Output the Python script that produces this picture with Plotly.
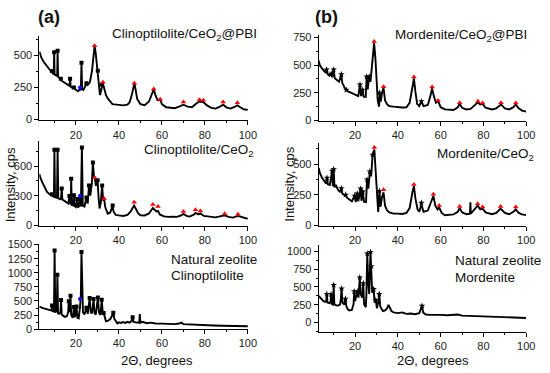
import plotly.graph_objects as go

# ---------------- data (2theta, intensity) ----------------
a1_x = [3, 4, 5, 6, 7, 8, 8.6, 8.9, 9.2, 9.7, 9.9, 10.1, 11.3, 11.5, 11.7, 12.5, 13, 13.5, 15, 16, 17, 17.3, 17.6, 18.5, 19.1, 19.7, 21, 21.9, 22.3, 22.6, 22.9, 23.5, 24.5, 25, 25.5, 26.5, 27.5, 28.2, 28.7, 29.2, 29.8, 30.2, 30.7, 31.2, 31.8, 32.5, 33.2, 34, 35, 36, 37, 38, 40, 42, 44, 45, 46, 46.8, 47.2, 47.7, 48.5, 50, 52, 54, 55.3, 56.2, 57, 58, 59.2, 60, 62, 64, 66, 68, 70, 72, 74, 76, 77.5, 79.3, 81, 83, 85, 87, 88.5, 90, 92, 94, 95.1, 96.5, 98, 100]
a1_y = [530, 480, 450, 430, 410, 385, 365, 378, 360, 355, 525, 350, 340, 536, 335, 320, 318, 300, 285, 270, 262, 318, 255, 245, 250, 235, 220, 235, 230, 442, 235, 230, 260, 283, 270, 290, 380, 500, 576, 520, 420, 380, 260, 190, 230, 285, 240, 190, 160, 140, 120, 118, 112, 110, 115, 135, 190, 260, 283, 240, 160, 120, 112, 140, 200, 235, 190, 150, 155, 120, 95, 90, 88, 100, 115, 100, 95, 125, 140, 135, 110, 90, 85, 100, 115, 95, 85, 100, 110, 95, 80, 75]

a2_x = [3, 3.5, 4.5, 5.5, 6.5, 7.5, 8.5, 8.9, 9.3, 9.8, 10, 10.3, 11.2, 11.5, 11.8, 12.5, 13.1, 13.4, 13.7, 14.5, 15.5, 16.5, 17, 17.3, 17.6, 17.8, 18.1, 18.8, 19.1, 19.4, 20, 20.6, 21, 21.6, 21.9, 22.3, 22.8, 23.2, 24, 24.9, 25.5, 26.1, 26.7, 27.4, 27.9, 28.4, 28.8, 29.3, 29.8, 30.1, 30.5, 31, 31.6, 32.2, 32.7, 33.1, 33.7, 34.8, 36, 36.8, 37.1, 37.5, 38.5, 40, 42, 44, 45.5, 46.5, 47.1, 47.8, 49, 50, 52, 54, 55.3, 55.8, 56.5, 57.5, 58.2, 59, 61, 63, 65, 67, 69, 70, 71.5, 73, 75, 75.6, 77, 77.9, 79.5, 82, 85, 87, 89.2, 91, 93, 95.4, 97, 99, 100]
a2_y = [520, 480, 430, 380, 340, 320, 305, 315, 295, 290, 767, 285, 280, 767, 275, 265, 270, 374, 260, 250, 235, 220, 298, 215, 210, 472, 205, 200, 305, 195, 185, 266, 180, 200, 300, 190, 790, 200, 190, 283, 220, 403, 300, 420, 637, 500, 482, 400, 440, 456, 300, 170, 230, 403, 250, 272, 180, 118, 130, 170, 200, 140, 105, 100, 95, 105, 140, 180, 200, 170, 120, 102, 100, 120, 160, 175, 160, 140, 145, 110, 90, 85, 88, 85, 100, 115, 95, 88, 110, 125, 110, 120, 95, 88, 80, 90, 100, 85, 78, 95, 82, 72, 68]

a3_x = [3, 4, 5, 6, 7, 8, 8.6, 8.9, 9.2, 9.8, 10.1, 10.4, 11.1, 11.4, 11.7, 12.3, 12.8, 13.1, 13.4, 14, 14.9, 15.8, 16.4, 16.7, 17, 17.5, 17.8, 18.5, 19.1, 19.5, 20.3, 20.7, 21.3, 21.9, 22.3, 22.6, 22.9, 23.3, 24, 24.9, 25.5, 26.4, 26.9, 27.5, 28.2, 28.7, 29.3, 30.2, 30.8, 31.5, 32, 32.5, 32.9, 33.5, 34, 35, 36, 37, 37.4, 37.9, 38.5, 39.3, 40, 41, 42, 43, 44, 45, 46, 46.4, 46.8, 48, 49.5, 49.7, 50, 51, 53, 55, 57, 60, 62, 64, 66, 68, 69, 70, 72, 75, 78, 80, 84, 88, 92, 96, 100]
a3_y = [400, 380, 370, 360, 350, 330, 330, 419, 320, 310, 1396, 300, 320, 965, 280, 276, 300, 517, 260, 240, 218, 230, 300, 494, 300, 592, 250, 200, 391, 210, 400, 200, 190, 380, 600, 1368, 700, 300, 260, 380, 270, 552, 300, 280, 534, 280, 260, 563, 290, 250, 523, 300, 288, 170, 138, 150, 180, 250, 293, 180, 140, 103, 120, 110, 125, 110, 130, 115, 150, 212, 130, 120, 110, 270, 115, 130, 105, 115, 100, 98, 95, 105, 90, 100, 115, 90, 85, 78, 72, 69, 65, 60, 58, 55, 52]

b1_x = [3, 3.5, 4.5, 5.5, 6.3, 6.7, 7.1, 8, 8.8, 9.3, 10, 10.5, 11.5, 12.5, 13.6, 14, 15, 15.9, 16.5, 17.5, 19, 20.5, 21.5, 22.3, 22.8, 23.5, 24, 25, 25.4, 25.9, 26.6, 27.2, 28, 28.9, 29.5, 30, 30.6, 31.2, 31.6, 32, 32.6, 33.3, 34, 35, 36, 38, 40, 42, 44, 45.5, 46.8, 47.5, 48.2, 49, 50, 51, 52, 54, 55.2, 56, 56.8, 57.8, 58.8, 60, 62, 64, 66, 68, 68.9, 70, 72, 74, 76, 77.4, 78.5, 79.6, 81, 84, 86, 88.2, 90, 92, 94, 95.1, 96.5, 98, 100]
b1_y = [540, 500, 470, 450, 430, 459, 420, 405, 421, 390, 459, 380, 365, 350, 416, 340, 300, 276, 265, 256, 240, 225, 220, 323, 220, 276, 215, 212, 395, 280, 395, 350, 520, 700, 560, 380, 180, 125, 240, 170, 250, 295, 180, 145, 130, 125, 120, 118, 120, 160, 300, 380, 260, 150, 130, 172, 130, 140, 220, 290, 220, 160, 175, 120, 100, 95, 95, 120, 150, 115, 100, 105, 140, 165, 145, 150, 115, 100, 110, 145, 110, 100, 120, 145, 110, 90, 80]

b2_x = [3, 3.5, 4.5, 5.5, 6.5, 6.9, 7.3, 8.2, 9.3, 9.6, 10, 10.4, 11, 12, 13, 13.6, 14, 15, 15.6, 16.2, 17.5, 18.5, 19.8, 20.3, 21, 21.5, 22.6, 23, 23.6, 24.2, 25.1, 25.6, 26.2, 26.9, 27.5, 28.2, 29, 29.6, 30.2, 30.8, 31.4, 31.9, 32.6, 33.3, 34, 35, 36, 38, 40, 42, 44, 45.5, 46.8, 47.5, 48.2, 49.2, 50, 51, 52, 54, 55.5, 56.6, 57.5, 58.5, 59.3, 60.5, 62, 64, 66, 68, 68.9, 70, 72, 73.7, 73.9, 74.1, 76, 77.3, 78.5, 79.6, 81, 84, 86, 88, 90, 92, 94, 95.1, 96.5, 98, 100]
b2_y = [470, 430, 390, 360, 340, 387, 335, 330, 445, 320, 458, 310, 330, 290, 270, 302, 260, 245, 249, 225, 205, 195, 241, 190, 259, 195, 299, 200, 275, 190, 188, 373, 300, 439, 400, 577, 620, 450, 230, 109, 280, 150, 230, 270, 160, 120, 105, 95, 95, 92, 100, 140, 270, 320, 220, 130, 110, 170, 110, 120, 190, 240, 160, 130, 145, 100, 82, 85, 88, 110, 140, 105, 90, 95, 188, 95, 130, 160, 130, 135, 105, 90, 100, 135, 100, 90, 110, 130, 100, 88, 82]

b3_x = [3, 4, 5, 6, 6.5, 6.8, 7.1, 8, 8.5, 8.8, 9.1, 9.7, 10, 10.3, 11, 12, 13, 13.4, 13.7, 14.1, 15, 15.5, 15.9, 16.5, 17.3, 18.5, 19.3, 19.6, 20, 21.2, 21.6, 22.2, 22.6, 23.3, 23.8, 24.2, 25, 25.3, 25.7, 26.1, 26.6, 27.2, 27.6, 28, 28.7, 29.1, 29.7, 30.2, 30.8, 31.3, 31.8, 32.5, 33, 34, 35, 35.6, 36.2, 37, 38, 40, 42, 44, 46, 48, 50, 51.3, 51.8, 53, 55, 58, 60, 63, 66, 68, 70, 74, 78, 82, 86, 90, 94, 97, 100]
b3_y = [373, 340, 305, 290, 300, 400, 280, 270, 290, 397, 260, 250, 528, 260, 240, 237, 250, 350, 478, 280, 250, 332, 230, 190, 169, 175, 260, 437, 300, 437, 350, 633, 400, 350, 551, 260, 214, 400, 970, 600, 400, 993, 792, 420, 469, 280, 314, 200, 280, 400, 220, 180, 160, 170, 200, 246, 200, 160, 140, 130, 140, 120, 125, 115, 130, 232, 140, 110, 105, 110, 105, 100, 100, 110, 95, 90, 88, 85, 80, 75, 70, 65, 62]

# phase markers
a1_sq_x = [8.9, 9.9, 11.5, 13, 17.3, 19.1, 22.6, 24.9, 30.2, 32.1]
a1_sq_y = [378, 525, 536, 318, 318, 250, 442, 283, 380, 272]
a1_bl_x = [21.9]
a1_bl_y = [250]
a1_tr_x = [28.7, 32.6, 47.2, 56.2, 59.2, 70, 77.5, 79.3, 88.5, 95.1]
a1_tr_y = [576, 290, 283, 237, 157, 136, 154, 150, 136, 130]

a2_sq_x = [8.9, 10, 11.5, 13.4, 17, 17.8, 19.1, 20.6, 22.8, 24.9, 26.1, 27.9, 30.1, 32.2, 37.1]
a2_sq_y = [315, 767, 767, 374, 298, 472, 305, 266, 790, 283, 403, 637, 456, 403, 200]
a2_bl_x = [21.9]
a2_bl_y = [300]
a2_tr_x = [28.8, 33.1, 47.1, 55.8, 58.2, 70, 75.6, 77.9, 89.2, 95.4]
a2_tr_y = [482, 272, 233, 210, 190, 141, 157, 144, 118, 112]

a3_sq_x = [8.9, 10.1, 11.4, 13.1, 16.7, 17.5, 19.1, 20.3, 22.6, 24.9, 26.4, 28.2, 30.2, 32, 32.9, 37.4, 46.4]
a3_sq_y = [419, 1396, 965, 517, 494, 592, 391, 400, 1368, 380, 552, 534, 563, 523, 288, 293, 212]
a3_bl_x = [21.9]
a3_bl_y = [534]

b1_st_x = [6.7, 8.8, 10, 13.6, 15.9, 22.3, 23.5, 25.4, 26.6, 31.3, 51]
b1_st_y = [459, 421, 459, 416, 276, 323, 276, 395, 395, 250, 172]
b1_tr_x = [28.9, 33.3, 47.5, 56, 58.8, 68.9, 77.4, 79.6, 88.2, 95.1]
b1_tr_y = [712, 305, 392, 302, 180, 160, 174, 157, 160, 157]

b2_st_x = [6.9, 9.3, 10, 13.6, 15.6, 19.8, 21, 22.6, 23.6, 25.6, 26.9, 28.2, 31.4, 51]
b2_st_y = [387, 445, 458, 302, 249, 241, 259, 299, 275, 373, 439, 577, 280, 183]
b2_tr_x = [29, 33.3, 47.5, 56.6, 59.3, 68.9, 77.3, 79.6, 88, 95.1]
b2_tr_y = [637, 291, 333, 254, 161, 153, 175, 148, 153, 148]

b3_st_x = [6.8, 8.8, 10, 13.7, 15.5, 19.6, 21.2, 22.2, 23.8, 25.7, 27.2, 27.6, 28.7, 29.7, 31.3, 51.3]
b3_st_y = [400, 397, 528, 478, 332, 437, 437, 633, 551, 970, 993, 792, 469, 314, 400, 232]

x_ticks = [20, 40, 60, 80, 100]

# ---------------- figure ----------------
W, H = 550, 373
fig = go.Figure()

def px_dom_x(l, r):
    return [l / W, r / W]

def px_dom_y(t, b):
    return [1 - b / H, 1 - t / H]

panels = [
    ("a1", px_dom_x(40, 252), px_dom_y(32, 119), [-8, 651], 250,
     (a1_x, a1_y), [("sq", a1_sq_x, a1_sq_y), ("bl", a1_bl_x, a1_bl_y), ("tr", a1_tr_x, a1_tr_y)]),
    ("a2", px_dom_x(40, 252), px_dom_y(140, 227.5), [-5, 856], 300,
     (a2_x, a2_y), [("sq", a2_sq_x, a2_sq_y), ("bl", a2_bl_x, a2_bl_y), ("tr", a2_tr_x, a2_tr_y)]),
    ("a3", px_dom_x(40, 252), px_dom_y(246, 334), [0, 1515], 250,
     (a3_x, a3_y), [("sq", a3_sq_x, a3_sq_y), ("bl", a3_bl_x, a3_bl_y)]),
    ("b1", px_dom_x(324, 535), px_dom_y(31, 119.5), [-4, 770], 250,
     (b1_x, b1_y), [("st", b1_st_x, b1_st_y), ("tr", b1_tr_x, b1_tr_y)]),
    ("b2", px_dom_x(324, 535), px_dom_y(142, 227.5), [-5, 675], 250,
     (b2_x, b2_y), [("st", b2_st_x, b2_st_y), ("tr", b2_tr_x, b2_tr_y)]),
    ("b3", px_dom_x(324, 535), px_dom_y(247, 337), [-137, 1096], 250,
     (b3_x, b3_y), [("st", b3_st_x, b3_st_y)]),
]

mstyle = {
    "sq": dict(symbol="square", size=4, color="black"),
    "bl": dict(symbol="circle", size=4, color="#1010ff"),
    "tr": dict(symbol="triangle-up", size=5, color="#ff0000"),
    "st": dict(symbol="star", size=5, color="black"),
}

font_fam = "Liberation Sans, Arial, sans-serif"
layout = {}
for i, (name, xd, yd, yr, dt, tr, mk) in enumerate(panels, start=1):
    xa = "x" if i == 1 else f"x{i}"
    ya = "y" if i == 1 else f"y{i}"
    fig.add_trace(go.Scatter(x=tr[0], y=tr[1], mode="lines",
                             line=dict(color="black", width=1.9),
                             xaxis=xa, yaxis=ya, showlegend=False, hoverinfo="skip"))
    for kind, mx, my in mk:
        fig.add_trace(go.Scatter(x=mx, y=my, mode="markers",
                                 marker=dict(**mstyle[kind], line=dict(width=0)),
                                 xaxis=xa, yaxis=ya, showlegend=False, hoverinfo="skip"))
    axcommon = dict(showline=True, linecolor="black", linewidth=1, ticks="outside",
                    ticklen=4, tickwidth=1, tickcolor="black", showgrid=False,
                    zeroline=False, tickfont=dict(family=font_fam, size=11, color="#222"))
    layout["xaxis" if i == 1 else f"xaxis{i}"] = dict(
        domain=xd, range=[3, 100], tickvals=x_ticks, anchor=ya,
        minor=dict(ticks="outside", ticklen=2, dtick=10, tick0=0, tickcolor="black"),
        **axcommon)
    layout["yaxis" if i == 1 else f"yaxis{i}"] = dict(
        domain=yd, range=yr, dtick=dt, tick0=0, anchor=xa,
        minor=dict(ticks="outside", ticklen=2, dtick=dt / 2, tick0=0, tickcolor="black"),
        **axcommon)

def txt(x, y, s, size=13, xanchor="center"):
    return dict(x=x / W, y=1 - y / H, xref="paper", yref="paper", text=s,
                showarrow=False, xanchor=xanchor, yanchor="middle",
                font=dict(family=font_fam, size=size, color="#111"))

ann = [
    txt(50, 12, "<b>(a)</b>", 18),
    txt(332, 12, "<b>(b)</b>", 18),
    txt(263, 30, "Clinoptilolite/CeO<sub>2</sub>@PBI", 13.5, "right"),
    txt(260, 150, "Clinoptilolite/CeO<sub>2</sub>", 13.5, "right"),
    txt(172, 262, "Natural zeolite", 13.5, "left"),
    txt(172, 279, "Clinoptilolite", 13.5, "left"),
    txt(538, 31, "Mordenite/CeO<sub>2</sub>@PBI", 13.5, "right"),
    txt(545, 154, "Mordenite/CeO<sub>2</sub>", 13.5, "right"),
    txt(461, 263, "Natural zeolite", 13.5, "left"),
    txt(461, 281, "Mordenite", 13.5, "left"),
    txt(160, 366, "2Θ, degrees", 13),
    txt(440, 366, "2Θ, degrees", 13),
]
for xpos in (11, 294):
    ann.append(dict(x=xpos / W, y=1 - 185 / H, xref="paper", yref="paper", text="Intensity, cps",
                    showarrow=False, textangle=-90, xanchor="center", yanchor="middle",
                    font=dict(family=font_fam, size=13, color="#111")))

fig.update_layout(width=W, height=H, margin=dict(l=0, r=0, t=0, b=0),
                  paper_bgcolor="white", plot_bgcolor="white",
                  annotations=ann, **layout)
fig.write_html("out.html", config={"displayModeBar": False},
               post_script="document.body.style.margin='0';document.body.style.padding='0';")
